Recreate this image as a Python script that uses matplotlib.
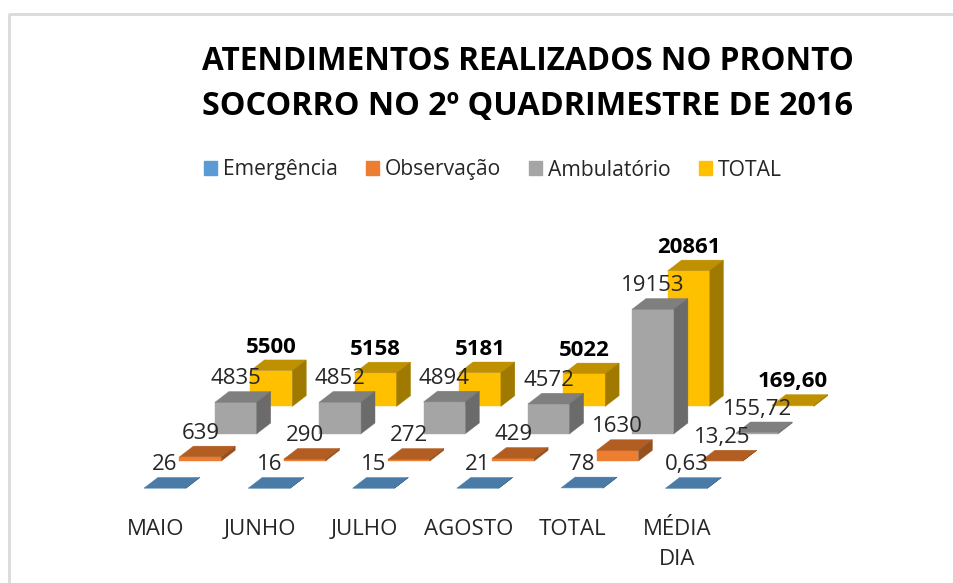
import matplotlib
matplotlib.use("Agg")
import matplotlib.pyplot as plt
from matplotlib.patches import Patch
from matplotlib.transforms import Affine2D

plt.rcParams["font.family"] = ["Open Sans", "DejaVu Sans"]

categorias = ["MAIO", "JUNHO", "JULHO", "AGOSTO", "TOTAL", "MÉDIA\nDIA"]
series = ["Emergência", "Observação", "Ambulatório", "TOTAL"]
emergencia = [26, 16, 15, 21, 78, 0.63]
observacao = [639, 290, 272, 429, 1630, 13.25]
ambulatorio = [4835, 4852, 4894, 4572, 19153, 155.72]
total = [5500, 5158, 5181, 5022, 20861, 169.60]
valores = [emergencia, observacao, ambulatorio, total]

# frente, topo, lado
cores = [
    ("#5B9BD5", "#4A7BA6", "#3F6A90"),
    ("#ED7D31", "#B25E23", "#96501E"),
    ("#A5A5A5", "#7F7F7F", "#6B6B6B"),
    ("#FFC000", "#BF9000", "#A07A00"),
]

PX_X = 104.3     # pixels por categoria
PX_Y = 0.0065    # pixels por atendimento
X0 = 144.0       # pixel da primeira barra
Y0 = 488.3       # pixel da base da primeira serie
PT = 0.72        # pixel para ponto

# tudo em unidades de dados: x = categoria, y = atendimentos
largura = 41.8 / PX_X
prof_x = 13.9 / PX_X
prof_y = 10.7 / PX_Y
serie_x = 35.5 / PX_X
serie_y = 27.3 / PX_Y

fig = plt.figure(figsize=(9.54, 5.83), dpi=100)
ax = fig.add_axes([0, 0, 1, 1])
ax.set_xlim(-X0 / PX_X, (954 - X0) / PX_X)
ax.set_ylim(-(583 - Y0) / PX_Y, Y0 / PX_Y)
ax.axis("off")


def barra(x, base, v, cor):
    ax.fill([x, x + largura, x + largura, x],
            [base, base, base + v, base + v], color=cor[0], lw=0.3)
    ax.fill([x, x + largura, x + largura + prof_x, x + prof_x],
            [base + v, base + v, base + v + prof_y, base + v + prof_y], color=cor[1], lw=0.3)
    ax.fill([x + largura, x + largura + prof_x, x + largura + prof_x, x + largura],
            [base, base + prof_y, base + v + prof_y, base + v], color=cor[2], lw=0.3)


def rotulo(v):
    if v == int(v):
        return str(int(v))
    return f"{v:.2f}".replace(".", ",")


# de tras para frente
for s in range(3, -1, -1):
    for c in range(len(categorias)):
        barra(c + s * serie_x, s * serie_y, valores[s][c], cores[s])

for s in range(4):
    for c in range(len(categorias)):
        v = valores[s][c]
        ax.annotate(rotulo(v), (c + s * serie_x + largura / 2, s * serie_y + v),
                    xytext=(0, 23.5 * PT), textcoords="offset points",
                    ha="center", va="center", fontsize=16,
                    color="black" if s == 3 else "#262626",
                    fontweight="bold" if s == 3 else "normal", zorder=5)

for c, nome in enumerate(categorias):
    ax.annotate(nome, (c, 0), xytext=(11.5 * PT, -31 * PT), textcoords="offset points",
                ha="center", va="top", fontsize=16, color="#262626", linespacing=1.55)

fig.text(202 / 954, 1 - 61 / 583, "ATENDIMENTOS REALIZADOS NO PRONTO", fontsize=22.7,
         fontweight="bold", va="center", ha="left", color="black")
fig.text(202 / 954, 1 - 107 / 583, "SOCORRO NO 2º QUADRIMESTRE DE 2016", fontsize=23.3,
         fontweight="bold", va="center", ha="left", color="black")

handles = [Patch(color=cores[i][0], label=series[i]) for i in range(4)]
ax.legend(handles=handles, ncol=4, frameon=False, loc="center left",
          bbox_to_anchor=(204 / 954, 1 - 170 / 583), fontsize=15.2,
          labelcolor="#262626", handlelength=0.62, handleheight=0.62,
          handletextpad=0.28, columnspacing=1.33, borderpad=0, borderaxespad=0)

# moldura cinza do grafico, em pixels
pixels = Affine2D().scale(1, -1).translate(0, 583)
ax.plot([8.7, 8.7, 954], [583, 14.4, 14.4], color="#DADADA", lw=2, transform=pixels)

fig.savefig("out.png", dpi=100)
